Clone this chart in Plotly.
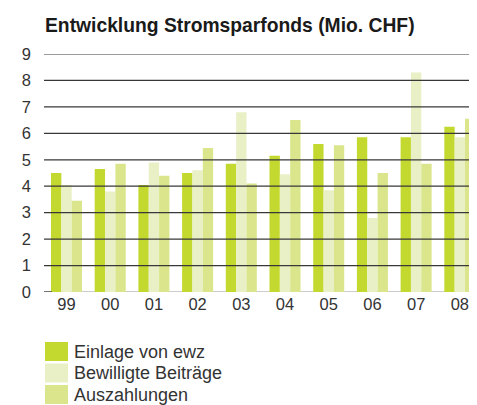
import plotly.graph_objects as go

years = ["99", "00", "01", "02", "03", "04", "05", "06", "07", "08"]
einlage = [4.5, 4.65, 4.05, 4.5, 4.85, 5.15, 5.6, 5.85, 5.85, 6.25]
bewilligt = [4.05, 3.8, 4.9, 4.6, 6.8, 4.45, 3.85, 2.8, 8.3, 5.85]
auszahlung = [3.45, 4.85, 4.4, 5.45, 4.1, 6.5, 5.55, 4.5, 4.85, 6.55]
series_names = ["Einlage von ewz", "Bewilligte Beiträge", "Auszahlungen"]
colors = ["#c4d930", "#e9f0c6", "#dbe68c"]
y_ticks = list(range(0, 10))

font = "Liberation Sans, Arial, sans-serif"
L, T, B, W, H = 36, 46, 121, 477, 405
PW = W - L
fig = go.Figure()
for name, vals, col in zip(series_names, [einlage, bewilligt, auszahlung], colors):
    fig.add_trace(go.Bar(x=list(range(len(years))), y=vals, name=name,
                         marker=dict(color=col, line=dict(width=0)),
                         showlegend=False))

shapes = []
for t in y_ticks:
    shapes.append(dict(type="line", xref="paper", yref="y", x0=0, x1=1, y0=t, y1=t,
                       line=dict(color="#999999" if t == 0 else "#383838", width=1.2),
                       layer="above" if t else "below"))
shapes.append(dict(type="line", xref="paper", yref="y", x0=0, x1=8 / PW, y0=0, y1=0,
                   line=dict(color="#383838", width=1.2), layer="above"))

annotations = [dict(text="<b>Entwicklung Stromsparfonds (Mio. CHF)</b>", xref="paper", yref="paper",
                    x=0, y=1.0, xshift=-1, yshift=29, xanchor="left", yanchor="middle", showarrow=False,
                    font=dict(family=font, size=19.3, color="#1a1a1a"))]
# manual legend (pixel offsets below the plot area)
for i, (name, col) in enumerate(zip(series_names, colors)):
    off = 50 + i * 21.5
    shapes.append(dict(type="rect", xref="paper", yref="paper", ysizemode="pixel", yanchor=0,
                       x0=1 / PW, x1=24 / PW, y0=-off, y1=-(off + 19),
                       line=dict(width=0), fillcolor=col))
    annotations.append(dict(text=name, xref="paper", yref="paper", x=28 / PW, y=0,
                            yshift=-(off + 9.5), xanchor="left", yanchor="middle",
                            showarrow=False, font=dict(family=font, size=18, color="#333333")))

fig.update_layout(
    width=W, height=H,
    margin=dict(l=L, r=0, t=T, b=B, autoexpand=False),
    paper_bgcolor="white", plot_bgcolor="white",
    barmode="group", bargap=0.29, bargroupgap=0,
    xaxis=dict(range=[-0.515, 9.576], tickmode="array", tickvals=list(range(len(years))),
               ticktext=years, showgrid=False, zeroline=False, showline=False,
               ticks="", tickfont=dict(family=font, size=16.5, color="#333333")),
    yaxis=dict(range=[0, 9], tickmode="array", tickvals=y_ticks, showgrid=False,
               zeroline=False, showline=False, ticks="", ticklabelstandoff=12,
               tickfont=dict(family=font, size=16.5, color="#333333")),
    shapes=shapes, annotations=annotations,
)
fig.write_html("out.html")
